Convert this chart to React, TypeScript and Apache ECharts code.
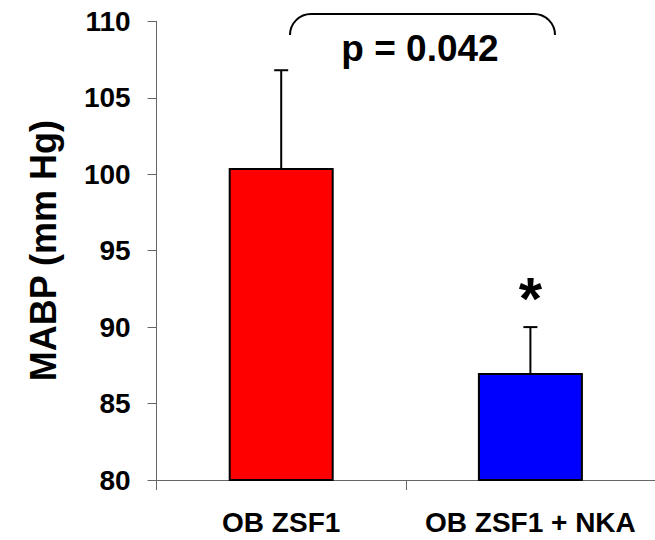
import React, { useEffect, useRef } from "react";
import * as echarts from "echarts";

const categories = ["OB ZSF1", "OB ZSF1 + NKA"];
const means = [100.4, 87.0];
const errors = [6.4, 3.0];
const marks = ["", "*"];
const barColors = ["#FF0000", "#0000FF"];
const yMin = 80;
const yMax = 110;
const yStep = 5;
const yAxisTitle = "MABP (mm Hg)";
const pValueText = "p = 0.042";

const FONT = "'Liberation Sans', Arial, Helvetica, sans-serif";

echarts.graphic.registerShape(
  "bracket",
  echarts.graphic.extendPath("M0 21 C0 9.4 9.4 0 21 0 L244 0 C255.6 0 265 9.4 265 21", {})
);

export default function App() {
  const ref = useRef<HTMLDivElement>(null);
  useEffect(() => {
    document.body.style.margin = "0";
    const chart = echarts.init(ref.current!, null, { renderer: "svg" });
    const errData = means.map((m, i) => [i, m, errors[i]]);
    chart.setOption({
      animation: false,
      backgroundColor: "#ffffff",
      textStyle: { fontFamily: FONT },
      grid: { left: 156.6, top: 21.3, right: 0, bottom: 60, outerBoundsMode: "none", containLabel: false },
      xAxis: {
        type: "category",
        data: categories,
        axisLine: { lineStyle: { color: "#666", width: 1 } },
        axisTick: { show: true, length: 10, lineStyle: { color: "#666" } },
        axisLabel: {
          color: "#000",
          fontWeight: "bold",
          fontSize: 28,
          margin: 28,
          interval: 0,
          hideOverlap: false,
          fontFamily: FONT,
        },
      },
      yAxis: {
        type: "value",
        min: yMin,
        max: yMax,
        interval: yStep,
        name: yAxisTitle,
        nameLocation: "middle",
        nameGap: 95,
        nameTextStyle: { color: "#000", fontWeight: "bold", fontSize: 36, fontFamily: FONT },
        splitLine: { show: false },
        axisLine: { show: true, lineStyle: { color: "#666", width: 1 } },
        axisTick: { show: true, length: 9, lineStyle: { color: "#666" } },
        axisLabel: { color: "#000", fontWeight: "bold", fontSize: 28, margin: 26, fontFamily: FONT },
      },
      series: [
        {
          type: "bar",
          barWidth: 105,
          data: means.map((v, i) => ({
            value: v,
            itemStyle: { color: barColors[i], borderColor: "#000", borderWidth: 2 },
          })),
          z: 2,
        },
        {
          type: "custom",
          data: errData,
          z: 3,
          renderItem: (params: any, api: any) => {
            const i = api.value(0);
            const base = api.coord([i, api.value(1)]);
            const top = api.coord([i, api.value(1) + api.value(2)]);
            const children: any[] = [
              {
                type: "line",
                shape: { x1: base[0], y1: base[1], x2: top[0], y2: top[1] },
                style: { stroke: "#000", lineWidth: 2 },
              },
              {
                type: "line",
                shape: { x1: top[0] - 7, y1: top[1], x2: top[0] + 7, y2: top[1] },
                style: { stroke: "#000", lineWidth: 2 },
              },
            ];
            const mk = marks[params.dataIndex];
            if (mk) {
              children.push({
                type: "text",
                x: top[0],
                y: top[1] - 29,
                style: {
                  text: mk,
                  fill: "#000",
                  fontSize: 60,
                  fontWeight: "bold",
                  fontFamily: FONT,
                  align: "center",
                  verticalAlign: "middle",
                },
              });
            }
            return { type: "group", children };
          },
        },
      ],
      graphic: [
        {
          type: "bracket",
          x: 290,
          y: 14,
          style: { fill: "none", stroke: "#000", lineWidth: 2 },
        },
        {
          type: "text",
          x: 420,
          y: 48.5,
          style: {
            text: pValueText,
            fill: "#000",
            fontSize: 37,
            fontWeight: "bold",
            fontFamily: FONT,
            align: "center",
            verticalAlign: "middle",
          },
        },
      ],
    });
    return () => chart.dispose();
  }, []);
  return (
    <div
      ref={ref}
      style={{ position: "fixed", left: 0, top: 0, width: 655, height: 540, background: "#fff" }}
    />
  );
}
